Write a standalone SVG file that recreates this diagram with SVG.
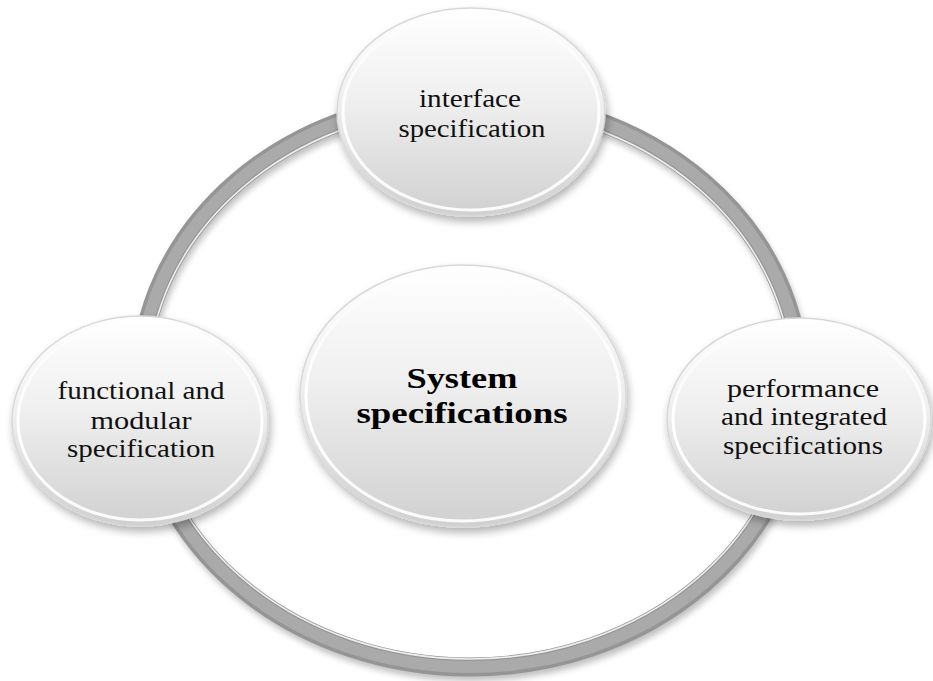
<svg xmlns="http://www.w3.org/2000/svg" width="933" height="681" viewBox="0 0 933 681">
<defs>
  <linearGradient id="nodeFill" x1="0" y1="0" x2="0" y2="1">
    <stop offset="0" stop-color="#ffffff"/>
    <stop offset="0.45" stop-color="#efefef"/>
    <stop offset="1" stop-color="#d0d0d0"/>
  </linearGradient>
  <linearGradient id="rimGrad" x1="0" y1="0" x2="0" y2="1">
    <stop offset="0" stop-color="#ffffff" stop-opacity="0.3"/>
    <stop offset="0.5" stop-color="#ffffff" stop-opacity="0.95"/>
    <stop offset="1" stop-color="#ffffff" stop-opacity="0.9"/>
  </linearGradient>
  <filter id="shadow" x="-20%" y="-20%" width="140%" height="150%">
    <feGaussianBlur in="SourceAlpha" stdDeviation="4"/>
    <feOffset dx="2" dy="5" result="b"/>
    <feComponentTransfer><feFuncA type="linear" slope="0.3"/></feComponentTransfer>
    <feMerge><feMergeNode/><feMergeNode in="SourceGraphic"/></feMerge>
  </filter>
  <filter id="ringShadow" x="-10%" y="-10%" width="120%" height="125%">
    <feGaussianBlur stdDeviation="3"/>
  </filter>
</defs>
<style>
  .node { fill: url(#nodeFill); stroke: #d8d8d8; stroke-width: 1.5; filter: url(#shadow); }
  .rim { fill: none; stroke: url(#rimGrad); stroke-width: 3; }
  .lbl { font-family: "Liberation Serif", "Times New Roman", serif; font-size: 25px; fill: #111; text-anchor: middle; }
  .big { font-family: "Liberation Serif", "Times New Roman", serif; font-size: 30px; font-weight: bold; fill: #000; text-anchor: middle; }
</style>
<rect width="933" height="681" fill="#ffffff"/>

<g id="connectors">
  <ellipse cx="472" cy="388" rx="330" ry="284" fill="none" stroke="#000" stroke-opacity="0.25" stroke-width="18" filter="url(#ringShadow)"/>
  <ellipse cx="470" cy="383" rx="330" ry="284" fill="none" stroke="#959595" stroke-width="19"/>
  <ellipse cx="470" cy="383" rx="330" ry="284" fill="none" stroke="#aaaaaa" stroke-width="12"/>
  <ellipse cx="470" cy="383" rx="322" ry="276" fill="none" stroke="#f6f6f6" stroke-opacity="0.9" stroke-width="1.6"/>
</g>

<g id="node-center">
  <ellipse class="node" cx="463" cy="396" rx="163" ry="131"/>
  <ellipse class="rim" cx="463" cy="396" rx="157" ry="125"/>
  <text class="big" x="462" y="388" textLength="111" lengthAdjust="spacingAndGlyphs">System</text>
  <text class="big" x="462" y="423" textLength="211" lengthAdjust="spacingAndGlyphs">specifications</text>
</g>

<g id="node-interface">
  <ellipse class="node" cx="471" cy="112" rx="134" ry="104"/>
  <ellipse class="rim" cx="471" cy="112" rx="128" ry="98"/>
  <text class="lbl" x="470" y="107" textLength="102" lengthAdjust="spacingAndGlyphs">interface</text>
  <text class="lbl" x="472" y="137" textLength="147" lengthAdjust="spacingAndGlyphs">specification</text>
</g>

<g id="node-functional">
  <ellipse class="node" cx="140" cy="421" rx="128" ry="105"/>
  <ellipse class="rim" cx="140" cy="421" rx="122" ry="99"/>
  <text class="lbl" x="141" y="399" textLength="167" lengthAdjust="spacingAndGlyphs">functional and</text>
  <text class="lbl" x="141" y="429" textLength="101" lengthAdjust="spacingAndGlyphs">modular</text>
  <text class="lbl" x="141" y="457" textLength="148" lengthAdjust="spacingAndGlyphs">specification</text>
</g>

<g id="node-performance">
  <ellipse class="node" cx="799" cy="419" rx="132" ry="101"/>
  <ellipse class="rim" cx="799" cy="419" rx="126" ry="95"/>
  <text class="lbl" x="803" y="397" textLength="152" lengthAdjust="spacingAndGlyphs">performance</text>
  <text class="lbl" x="804" y="425" textLength="166" lengthAdjust="spacingAndGlyphs">and integrated</text>
  <text class="lbl" x="803" y="454" textLength="160" lengthAdjust="spacingAndGlyphs">specifications</text>
</g>
</svg>
